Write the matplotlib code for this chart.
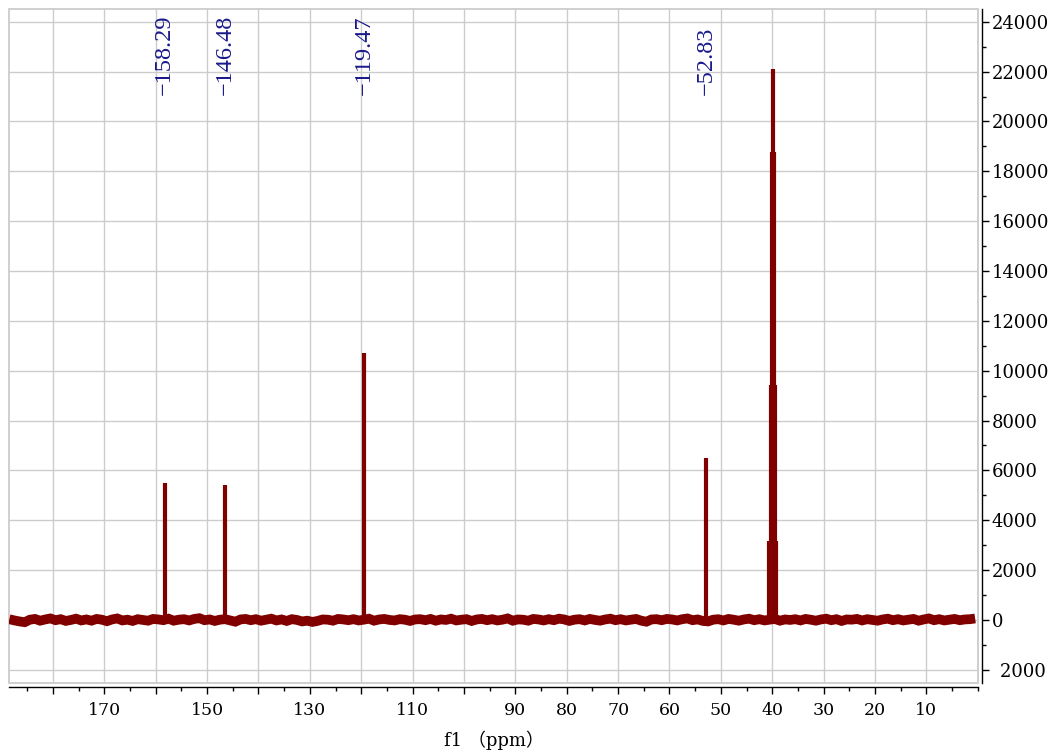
import numpy as np
import matplotlib
matplotlib.use("Agg")
import matplotlib.pyplot as plt
from matplotlib.ticker import FixedLocator, MultipleLocator, FixedFormatter
from matplotlib.patches import Rectangle
import matplotlib.transforms as mtransforms

# ---------------- data ----------------
labelled_shifts = [158.29, 146.48, 119.47, 52.83]
labelled_heights = [5480, 5400, 10700, 6500]

# solvent multiplet (DMSO-d6 septet)
solvent_shifts = [40.53, 40.32, 40.11, 39.90, 39.69, 39.48, 39.27]
solvent_heights = [3160, 9440, 18780, 22100, 18780, 9440, 3160]

# baseline noise read every 1 ppm, from 188.5 ppm down to 0.5 ppm
baseline_ppm = np.arange(188.5, 0.0, -1.0)
baseline_int = [
    30, -20, -60, -90, 10, 40, -30, 20, 60, -10, 30, -40, 0, 50, -20, 20, -30, 40, 10, -50,
    20, 60, -20, 10, -40, 30, 0, -30, 40, 20, -10, 50, -30, 10, 30, -20, 40, 70, -10, 20,
    -40, 10, 30, -20, -70, 20, 40, -10, 30, -30, 10, 50, -20, 20, -40, 30, 0, -60, -30, -80,
    -40, 20, 10, -30, 40, 20, -10, 30, -20, 10, 50, -30, 20, 40, 0, -20, 30, 10, -40, 20,
    30, -10, 40, -30, 20, 0, 50, -20, 10, 30, -40, 20, 40, -10, 30, -20, 10, 60, -30, 20,
    10, -30, 40, 20, -20, 30, -10, 50, 20, -40, 10, 30, -20, 40, 0, -30, 20, 50, -10, 30,
    -20, 10, 40, -30, -70, 20, 30, -10, 40, 20, -20, 30, 60, -10, 20, -40, -60, 10, 30, -20,
    40, 10, -30, 20, 50, -10, 30, -20, 10, 40, -30, 20, 0, 30, -20, 40, 10, -30, 20, 50,
    -10, 30, -40, 20, 10, 40, -20, 30, 0, -30, 20, 50, -10, 30, -20, 10, 40, -30, 20, 60,
    -10, 30, -20, 10, 40, -10, 20, 30, 60,
]

x_ticks = [180, 170, 160, 150, 140, 130, 120, 110, 100, 90, 80, 70, 60, 50, 40, 30, 20, 10]
x_tick_labels = ['', '170', '', '150', '', '130', '', '110', '', '90', '80', '70', '60',
                 '50', '40', '30', '20', '10']
y_ticks = [-2000, 0, 2000, 4000, 6000, 8000, 10000, 12000, 14000, 16000, 18000,
           20000, 22000, 24000]
y_tick_labels = ['\u20022000', '0', '2000', '4000', '6000', '8000', '10000', '12000',
                 '14000', '16000', '18000', '20000', '22000', '24000']

# ---------------- styling ----------------
plt.rcParams['font.family'] = ['DejaVu Serif', 'Noto Sans CJK SC']
spec_color = '#800000'
label_color = '#1a1a8c'
grid_color = '#cccccc'

W, H = 1056, 754
fig = plt.figure(figsize=(W / 100, H / 100), dpi=100)
left_px, right_px, top_px, bottom_px = 9.3, 977.7, 9.3, 683.0
ax = fig.add_axes([left_px / W, (H - bottom_px) / H,
                   (right_px - left_px) / W, (bottom_px - top_px) / H])

ax.set_xlim(188.5, 0.0)
ax.set_ylim(-2530, 24500)

# baseline
ax.plot(baseline_ppm, baseline_int, color=spec_color, lw=7.0,
        solid_joinstyle='miter', solid_capstyle='butt', zorder=3)
# peaks
ax.vlines(labelled_shifts, 0, labelled_heights, color=spec_color, lw=3.0, zorder=4)
ax.vlines(solvent_shifts, 0, solvent_heights, color=spec_color, lw=3.0, zorder=4)

# peak labels
trans = mtransforms.blended_transform_factory(ax.transData, ax.transAxes)
label_y = (bottom_px - 95) / (bottom_px - top_px)
for s in labelled_shifts:
    ax.text(s, label_y, '\u2212' + f'{s:.2f}', transform=trans, rotation=90,
            ha='center', va='bottom', fontsize=17.5, family='Liberation Serif',
            color=label_color, zorder=5)

# grid
ax.set_axisbelow(True)
ax.grid(True, which='major', color=grid_color, lw=1.0, zorder=0)

# spines
for sp in ('top', 'left'):
    ax.spines[sp].set_visible(False)
off = 4 * 72 / 100
ax.spines['bottom'].set_position(('outward', off))
ax.spines['right'].set_position(('outward', off))
ax.spines['bottom'].set_color('black')
ax.spines['right'].set_color('black')
ax.spines['bottom'].set_linewidth(1.0)
ax.spines['right'].set_linewidth(1.0)
ax.add_patch(Rectangle((0, 0), 1, 1, transform=ax.transAxes, fill=False,
                       edgecolor=grid_color, lw=1.3, clip_on=False, zorder=1))

# ticks
ax.xaxis.set_major_locator(FixedLocator(x_ticks))
ax.xaxis.set_major_formatter(FixedFormatter(x_tick_labels))
ax.xaxis.set_minor_locator(MultipleLocator(5))
ax.yaxis.tick_right()
ax.yaxis.set_major_locator(FixedLocator(y_ticks))
ax.yaxis.set_major_formatter(FixedFormatter(y_tick_labels))
ax.yaxis.set_minor_locator(MultipleLocator(1000))
ax.tick_params(axis='x', which='major', direction='out', length=5, width=1,
               labelsize=12.5, pad=6)
ax.tick_params(axis='x', which='minor', direction='out', length=3, width=1)
ax.tick_params(axis='y', which='major', direction='out', length=5, width=1,
               labelsize=13, pad=2)
ax.tick_params(axis='y', which='minor', direction='out', length=3, width=1)

fig.text((left_px + right_px) / 2 / W, 1 - 740 / H, 'f1 （ppm）', ha='center',
         va='center', fontsize=13, family=['DejaVu Serif', 'Noto Sans CJK SC'])

fig.savefig('out.png', dpi=100)
